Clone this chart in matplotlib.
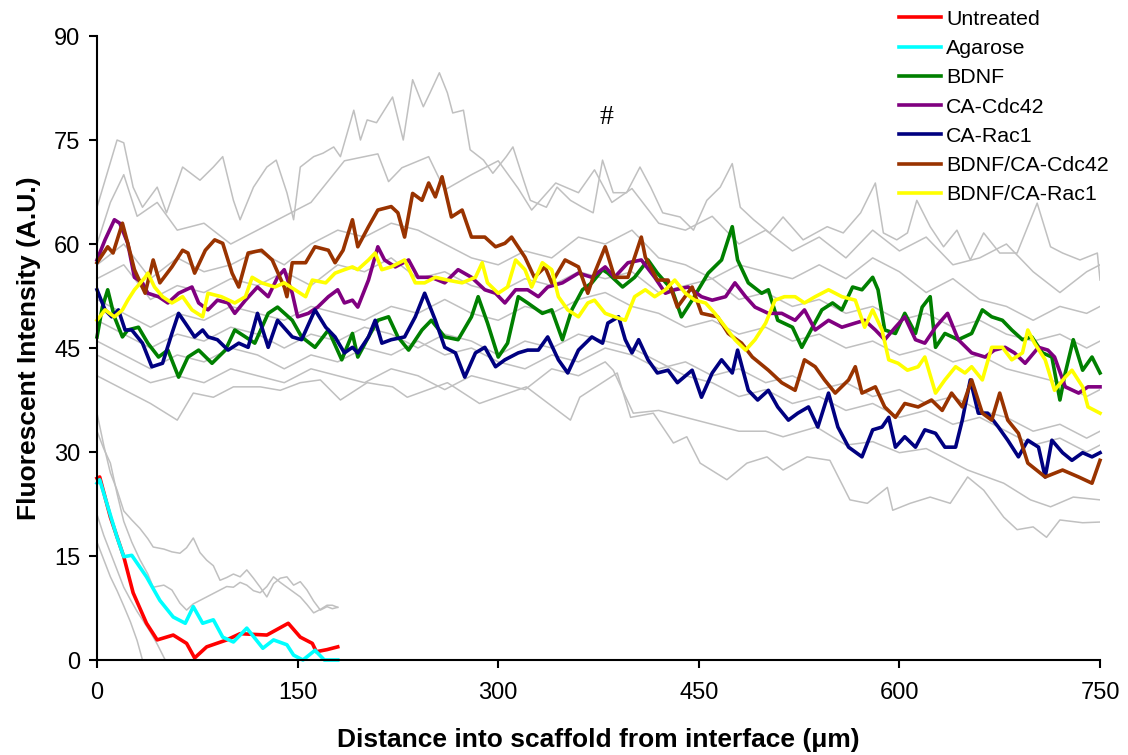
import matplotlib
matplotlib.use("Agg")
import matplotlib.pyplot as plt
from matplotlib.lines import Line2D

plt.rcParams['font.family'] = ['Liberation Sans', 'DejaVu Sans']

# ---------------- mean profiles ----------------
untreated_x = [0, 2, 10, 20, 27, 37, 45, 57, 67, 73, 82, 97, 107, 127, 143, 152, 161, 164, 172, 180]
untreated_y = [26.2, 26.4, 20.6, 14.9, 9.7, 5.3, 2.9, 3.6, 2.4, 0.3, 1.9, 2.9, 3.8, 3.6, 5.3, 3.3, 2.4, 1.2, 1.5, 1.9]

agarose_x = [0, 2, 15, 20, 26, 37, 47, 57, 66, 72, 79, 87, 94, 102, 112, 124, 132, 142, 147, 154, 163, 170, 180]
agarose_y = [25.5, 26, 17.7, 14.9, 15.1, 12, 8.6, 6.2, 5.3, 7.7, 5.3, 5.8, 3.3, 2.6, 4.6, 1.7, 2.9, 2.2, 0.7, 0, 1.4, 0, 0]

bdnf_x = [0, 4, 8, 13, 19, 23, 31, 38, 46, 53, 61, 68, 76, 86, 96, 103, 111, 118, 128, 135,
          146, 153, 163, 173, 183, 191, 195, 203, 210, 218, 225, 233, 243, 250, 260, 270, 280, 285, 292, 300,
          307, 315, 322, 333, 340, 348, 355, 363, 370, 378, 382, 393, 402, 412, 419, 430, 437, 445, 457, 467,
          475, 479, 487, 497, 502, 509, 520, 527, 535, 542, 550, 557, 565, 572, 580, 584, 589, 597, 604, 612,
          617, 623, 627, 634, 644, 654, 662, 669, 677, 684, 692, 699, 707, 714, 720, 724, 730, 737, 744, 750]
bdnf_y = [46.6, 50.9, 53.4, 49.5, 46.6, 47.6, 48, 45.7, 43.7, 44.7, 40.8, 43.7, 44.7, 42.8, 44.7, 47.6, 46.6, 45.7, 50, 50.9,
          49, 46.6, 45.1, 47.6, 43.3, 47.1, 43.7, 46.6, 49, 49.5, 46.6, 44.7, 47.6, 49, 46.6, 46.2, 49.5, 52.4, 48.6, 43.7,
          45.7, 52.4, 51.5, 50, 50.5, 46.2, 50.5, 53.4, 54.4, 56.3, 55.8, 53.8, 55.2, 57.7, 55.8, 53.4, 49.5, 51.9, 55.8, 57.7,
          62.5, 57.7, 54.4, 52.9, 53.4, 49, 48, 45.1, 48, 50.5, 51.5, 50.5, 53.8, 53.4, 55.2, 53.4, 47.6, 47.1, 50, 47.1,
          50.9, 52.4, 45.1, 47.1, 46.2, 47.1, 50.5, 49.5, 49, 47.6, 46.2, 46.6, 44.3, 43.7, 37.5, 41.4, 46.2, 41.8, 43.7, 41.4]

cdc42_x = [0, 6, 13, 17, 23, 28, 34, 38, 46, 53, 61, 71, 76, 83, 90, 98, 103, 111, 120, 128,
           135, 140, 146, 150, 158, 165, 173, 180, 185, 191, 195, 203, 210, 215, 223, 233, 240, 250, 260, 270,
           280, 290, 298, 305, 313, 322, 330, 337, 348, 360, 370, 380, 387, 397, 407, 417, 425, 432, 442, 452,
           460, 470, 477, 485, 492, 502, 512, 522, 529, 537, 547, 557, 567, 574, 582, 589, 597, 604, 612, 619,
           627, 636, 644, 654, 664, 671, 679, 686, 694, 704, 711, 716, 724, 734, 741, 750]
cdc42_y = [57.7, 60.6, 63.5, 63, 60.1, 55.2, 54.4, 52.9, 52.4, 51.5, 52.9, 53.8, 51.5, 50.5, 51.9, 51.5, 50, 51.9, 53.8, 52.4,
           55.2, 56.3, 52.9, 49.5, 50, 50.9, 52.4, 53.4, 51.5, 51.9, 50.9, 54.8, 59.6, 57.7, 56.7, 57.7, 55.2, 55.2, 54.4, 56.3,
           55.2, 53.4, 52.9, 51.5, 53.4, 53.4, 52.4, 53.8, 54.4, 55.8, 55.2, 56.7, 55.2, 57.3, 57.7, 55.2, 52.9, 53.4, 53.8, 52.4,
           51.9, 52.4, 54.4, 52.4, 50.9, 50, 50, 49, 50.5, 47.6, 49, 48, 48.6, 49, 47.6, 46.2, 48, 49.5, 46.2, 45.7,
           48, 50, 46.2, 44.3, 43.7, 44.7, 45.1, 44.3, 42.8, 45.1, 44.7, 43.7, 39.4, 38.5, 39.4, 39.4]

rac1_x = [0, 6, 11, 16, 21, 26, 34, 41, 49, 56, 61, 66, 73, 79, 83, 90, 98, 106, 113, 120,
          128, 135, 146, 153, 163, 171, 178, 185, 191, 195, 203, 208, 213, 220, 230, 238, 245, 253, 260, 268,
          275, 283, 290, 298, 305, 315, 322, 330, 337, 345, 352, 360, 370, 378, 382, 390, 395, 400, 405, 412,
          419, 427, 434, 445, 452, 460, 467, 475, 479, 487, 494, 502, 509, 517, 524, 532, 539, 547, 554, 562,
          572, 580, 587, 592, 597, 604, 612, 619, 627, 634, 642, 647, 653, 659, 666, 674, 681, 689, 696, 704,
          709, 714, 722, 729, 737, 744, 750]
rac1_y = [53.4, 50.5, 49.5, 50.5, 47.6, 47.6, 45.7, 42.3, 42.8, 47.1, 50, 48.6, 46.6, 47.6, 46.6, 46.2, 44.7, 45.7, 45.1, 50,
          45.1, 49, 46.6, 46.2, 50.5, 48, 46.6, 44.3, 45.1, 44.3, 46.6, 49, 45.7, 46.2, 46.6, 49.5, 52.9, 49, 45.1, 44.3,
          40.8, 44.3, 45.1, 42.3, 43.3, 44.3, 44.7, 44.7, 46.6, 43.3, 41.4, 44.7, 46.6, 45.7, 48.6, 49.5, 46.2, 44.3, 46.2, 43.3,
          41.4, 41.8, 40, 41.8, 37.9, 41.4, 43.3, 41.4, 44.7, 38.9, 37.5, 38.9, 36.5, 34.6, 35.6, 36.5, 33.6, 38.5, 33.6, 30.7,
          29.3, 33.2, 33.6, 35, 30.7, 32.2, 30.7, 33.2, 32.7, 30.7, 30.7, 34.6, 40.4, 35.6, 35.6, 33.6, 31.7, 29.3, 31.7, 30.7,
          26.4, 31.7, 29.9, 28.8, 29.9, 29.3, 29.9]

bdnf_cdc42_x = [0, 8, 12, 19, 23, 28, 36, 42, 47, 56, 64, 68, 73, 81, 88, 94, 101, 106, 113, 123,
                131, 140, 142, 146, 156, 163, 173, 178, 184, 191, 195, 203, 210, 220, 225, 230, 236, 243, 248, 253,
                258, 265, 273, 280, 290, 298, 305, 310, 320, 327, 335, 340, 350, 360, 367, 372, 380, 387, 397, 407,
                410, 419, 427, 434, 445, 452, 464, 472, 482, 490, 502, 512, 522, 529, 537, 544, 552, 562, 567, 572,
                582, 589, 597, 604, 614, 624, 632, 639, 647, 654, 662, 669, 675, 681, 689, 696, 709, 722, 734, 744, 750]
bdnf_cdc42_y = [57.3, 59.6, 58.7, 63, 60.1, 56.3, 52.9, 57.7, 54.4, 56.7, 59.1, 58.7, 55.8, 59.1, 60.6, 60.1, 55.8, 53.8, 58.7, 59.1,
                57.7, 53.8, 52.4, 57.3, 57.3, 59.6, 59.1, 57.3, 59.1, 63.5, 59.6, 62.5, 64.9, 65.4, 64.5, 61, 67.3, 66.3, 68.8, 66.8,
                69.7, 63.9, 64.9, 61, 61, 59.6, 60.1, 61, 58.1, 55.2, 56.7, 54.4, 57.7, 56.7, 52.9, 55.8, 59.6, 55.2, 55.2, 61,
                58.1, 54.8, 54.8, 50.9, 53.8, 50, 49.5, 47.1, 45.7, 43.7, 41.8, 40, 38.9, 43.3, 42.3, 40.4, 38.5, 40.4, 42.3, 38.5,
                39.4, 36.5, 35, 37, 36.5, 37.5, 36, 38.5, 36.5, 40.4, 35.6, 34.6, 38.5, 34.6, 32.7, 28.4, 26.4, 27.4, 26.4, 25.5, 28.8]

bdnf_rac1_x = [0, 6, 13, 19, 23, 28, 36, 38, 43, 49, 56, 64, 71, 79, 83, 93, 103, 111, 116, 123,
               133, 140, 148, 156, 161, 171, 178, 185, 191, 195, 203, 208, 213, 220, 230, 238, 245, 253, 262, 273,
               283, 288, 292, 300, 307, 313, 320, 325, 333, 340, 345, 352, 360, 367, 372, 380, 387, 395, 402, 410,
               417, 425, 432, 440, 447, 455, 462, 470, 477, 485, 492, 500, 507, 514, 522, 529, 537, 547, 557, 567,
               574, 580, 587, 592, 599, 606, 614, 619, 627, 634, 642, 649, 654, 662, 669, 677, 684, 692, 696, 701,
               709, 716, 724, 729, 737, 741, 750]
bdnf_rac1_y = [49, 50.5, 49.5, 50.5, 51.9, 53.4, 55.2, 55.8, 53.8, 52.4, 51.5, 52.4, 50.5, 49.5, 52.9, 52.4, 51.5, 52.4, 55.2, 54.4,
               53.8, 54.4, 53.4, 52.4, 54.8, 54.4, 55.8, 56.3, 56.7, 56.3, 57.7, 58.7, 56.3, 56.7, 57.7, 54.4, 54.4, 55.2, 54.8, 54.4,
               55.2, 57.3, 54.4, 52.9, 53.8, 57.7, 56.3, 53.8, 57.3, 56.3, 52.4, 50.5, 49.5, 51.5, 51.9, 50, 49.5, 49, 52.4, 53.4,
               52.4, 53.4, 54.8, 52.9, 51.9, 51.5, 50, 48, 46.2, 44.7, 46.2, 48.6, 51.9, 52.4, 52.4, 51.5, 52.4, 53.4, 52.4, 51.9,
               48, 50.5, 47.6, 43.3, 42.8, 41.8, 42.3, 43.7, 38.5, 40.4, 42.3, 41.4, 42.3, 40.4, 45.1, 45.1, 43.3, 44.3, 47.6, 45.7,
               43.3, 38.9, 40.8, 41.8, 39.4, 36.5, 35.6]

# ---------------- +/- SD profiles (grey) ----------------
sd_top_x = [0, 15, 20, 27, 34, 45, 52, 64, 77, 87, 94, 102, 107, 117, 127, 134, 142, 147, 152, 162,
            169, 177, 182, 192, 197, 202, 209, 221, 229, 236, 244, 249, 256, 262, 266, 274, 279, 289, 296, 306,
            311, 319, 324, 336, 344, 354, 363, 371, 378, 386, 396, 406, 414, 423, 436, 446, 456, 466, 475, 481,
            491, 503, 513, 528, 546, 558, 571, 582, 588, 598, 606, 613, 623, 633, 643, 653, 663, 675, 688, 703,
            713, 722, 735, 748, 750]
sd_top_y = [65.3, 75, 74.6, 68.2, 65.3, 68.2, 64.5, 71.1, 69.2, 71.1, 72.6, 66.3, 63.5, 68.2, 71.1, 72.1, 67.4, 63.5, 71.1, 72.6,
            73.1, 74, 72.6, 79.3, 75, 77.9, 77.5, 81.2, 75, 83.7, 79.8, 81.8, 84.7, 81.8, 78.9, 79.3, 73.6, 72.1, 70.2, 72.6,
            74, 69.2, 66.3, 65.3, 68.2, 66.3, 65.3, 64.5, 72.1, 67.4, 67.4, 71.1, 68.2, 64.5, 63.9, 62, 66.3, 68.2, 71.6, 65.3,
            63.5, 61.6, 63.9, 60.6, 62.5, 61.6, 64.5, 68.8, 61.6, 60.6, 61.6, 66.3, 62.5, 59.6, 62, 57.7, 61.6, 58.7, 58.7, 65.9,
            59.6, 58.7, 57.7, 58.7, 54.8]

sd_b_x = [0, 10, 20, 30, 45, 60, 80, 100, 120, 140, 160, 185, 210, 218, 228, 248, 260, 280, 300, 315,
          325, 343, 360, 372, 385, 400, 420, 440, 460, 480, 500, 520, 540, 560, 580, 600, 620, 640, 660, 680,
          700, 720, 740, 750]
sd_b_y = [60, 66, 70, 64, 66, 62, 63, 60, 62, 64, 66, 72, 73, 69, 71, 72.6, 67.8, 70, 72, 68,
          64.9, 68.8, 67.4, 70.7, 66, 68, 63, 62, 64, 60, 62, 59, 61, 58, 62, 59, 61, 57, 58, 60,
          56, 53, 56, 57]

sd_grid = [0, 20, 40, 60, 80, 100, 120, 140, 160, 180, 200, 220, 240, 260, 280, 300, 320, 340, 360, 380,
           400, 420, 440, 460, 480, 500, 520, 540, 560, 580, 600, 620, 640, 660, 680, 700, 720, 740, 750]
sd_c_y = [57, 60, 55, 58, 56, 57, 59, 57, 60, 62, 61, 63, 62, 60, 58, 57, 59, 58, 61, 60,
          62, 58, 57, 55, 57, 56, 55, 57, 55, 58, 56, 53, 55, 52, 51, 49, 51, 50, 51]
sd_d_y = [55, 57, 52, 54, 53, 55, 54, 56, 54, 57, 56, 58, 55, 56, 54, 53, 55, 54, 56, 55,
          56, 53, 54, 55, 52, 53, 51, 52, 50, 51, 49, 50, 48, 49, 47, 46, 47, 45, 46]
sd_e_y = [52, 50, 48, 50, 49, 51, 50, 49, 51, 50, 49, 51, 50, 52, 50, 49, 51, 50, 52, 53,
          51, 50, 48, 49, 47, 48, 46, 47, 45, 46, 44, 45, 43, 44, 42, 41, 40, 38, 39]
sd_f_y = [46, 44, 42, 44, 43, 45, 44, 42, 44, 43, 45, 44, 46, 44, 45, 43, 42, 44, 43, 45,
          44, 42, 43, 41, 42, 40, 41, 39, 40, 38, 39, 37, 38, 36, 35, 33, 34, 32, 33]
sd_g_y = [49, 47, 45, 47, 46, 48, 47, 45, 47, 46, 48, 47, 45, 47, 46, 44, 46, 45, 47, 46,
          45, 43, 41, 40, 38, 39, 37, 38, 36, 37, 35, 36, 34, 35, 33, 31, 32, 30, 31]

sd_h_x = [0, 20, 40, 60, 80, 100, 120, 140, 160, 180, 200, 220, 240, 260, 280, 300, 320, 340, 360, 380,
          386, 401, 420, 440, 460, 480, 500, 513, 538, 560, 580, 600, 620, 651, 678, 698, 713, 730, 750]
sd_h_y = [44, 42, 40, 41, 40, 42, 41, 40, 42, 41, 40, 42, 41, 39, 41, 40, 39, 42, 41, 43,
          41.8, 35.6, 36, 35, 34, 33, 33, 32.2, 33.6, 31, 31.5, 29.9, 30.5, 27.4, 25.5, 23.1, 22.1, 23.5, 23.1]

sd_low_x = [0, 20, 40, 60, 72, 87, 102, 122, 137, 152, 167, 182, 202, 221, 232, 262, 286, 321, 354, 361,
            389, 399, 416, 431, 441, 451, 471, 486, 501, 513, 531, 548, 563, 576, 591, 595, 608, 623, 638, 651,
            663, 678, 688, 700, 710, 720, 737, 750]
sd_low_y = [41, 39, 37, 34.6, 38.5, 37.9, 39.4, 39.4, 38.9, 40, 40.4, 37.5, 40, 39.4, 37.9, 40, 37, 39.4, 34.6, 37.9,
            41.4, 35, 35.6, 31.3, 32.2, 28.4, 26, 28.4, 29.3, 27.4, 29.3, 28.8, 23.1, 22.6, 24.9, 21.6, 22.6, 23.5, 22.6, 26.4,
            24.5, 20.6, 18.8, 19.2, 17.7, 20.2, 19.8, 19.9]

sd_short_x = [0, 5, 10, 15, 20, 26, 32, 38, 42, 50, 56, 62, 67, 72, 77, 82, 87, 92, 97, 102,
              107, 112, 117, 122, 127, 132, 137, 142, 147, 152, 157, 162, 167, 172, 176, 180]
sd_agar_hi_y = [35.6, 31, 27, 24.5, 21.5, 20.2, 19, 17.5, 16.3, 16, 15.6, 15.4, 16.2, 17.6, 15.5, 14.4, 13.6, 11.5, 11.9, 12.4,
                12, 13, 11.8, 10.5, 9.1, 11, 11.8, 12, 10.8, 11.3, 10.1, 8.5, 7.2, 7.7, 7.4, 7.6]
sd_untr_hi_y = [33, 30.5, 28.4, 24, 20, 17, 14.5, 12.4, 10.5, 10.8, 10.1, 8.2, 7.2, 8.1, 8.6, 9.1, 9.6, 10.1, 10.6, 10.5,
                11.2, 10.8, 10, 9.7, 10.6, 12, 11.2, 10.5, 9.8, 9.1, 8, 6.8, 7.3, 7.9, 7.9, 7.6]
sd_untr_lo_x = [0, 5, 10, 15, 20, 25, 30, 34]
sd_untr_lo_y = [17, 14.5, 12, 10, 7.8, 5.5, 2.8, 0]
sd_agar_lo_x = [0, 5, 10, 15, 20, 25, 30, 35, 40, 45, 51]
sd_agar_lo_y = [21, 18, 15.5, 13, 10.5, 8.7, 7, 5.5, 4, 2.3, 0]

series_names = ['Untreated', 'Agarose', 'BDNF', 'CA-Cdc42', 'CA-Rac1', 'BDNF/CA-Cdc42', 'BDNF/CA-Rac1']
series_colors = ['#ff0000', '#00ffff', '#008000', '#800080', '#000080', '#993300', '#ffff00']
x_ticks = [0, 150, 300, 450, 600, 750]
y_ticks = [0, 15, 30, 45, 60, 75, 90]

means = [(untreated_x, untreated_y), (agarose_x, agarose_y), (bdnf_x, bdnf_y), (cdc42_x, cdc42_y),
         (rac1_x, rac1_y), (bdnf_cdc42_x, bdnf_cdc42_y), (bdnf_rac1_x, bdnf_rac1_y)]
sd_lines = [(sd_top_x, sd_top_y), (sd_b_x, sd_b_y), (sd_grid, sd_c_y), (sd_grid, sd_d_y),
            (sd_grid, sd_e_y), (sd_grid, sd_f_y), (sd_grid, sd_g_y), (sd_h_x, sd_h_y),
            (sd_low_x, sd_low_y), (sd_short_x, sd_agar_hi_y), (sd_short_x, sd_untr_hi_y),
            (sd_untr_lo_x, sd_untr_lo_y), (sd_agar_lo_x, sd_agar_lo_y)]

fig = plt.figure(figsize=(11.28, 7.55), dpi=100)
ax = fig.add_axes([0.0860, 0.1258, 0.8892, 0.8265])

for gx, gy in sd_lines:
    ax.plot(gx, gy, color='#c0c0c0', lw=1.1, zorder=1)

handles = []
for (mx, my), name, col in zip(means, series_names, series_colors):
    ax.plot(mx, my, color=col, lw=2.6, zorder=2, clip_on=False,
            solid_joinstyle='round', label=name)
    handles.append(Line2D([], [], color=col, lw=2.6))

ax.set_xlim(0, 750)
ax.set_ylim(0, 90)
ax.set_xticks(x_ticks)
ax.set_yticks(y_ticks)
for side in ('top', 'right'):
    ax.spines[side].set_visible(False)
for side in ('left', 'bottom'):
    ax.spines[side].set_linewidth(1.5)
ax.tick_params(direction='out', length=6, width=1.5, labelsize=17)
ax.tick_params(axis='x', pad=10)
ax.tick_params(axis='y', pad=6)

ax.set_xlabel('Distance into scaffold from interface (\u03bcm)', fontsize=19, fontweight='bold', labelpad=17)
ax.set_ylabel('Fluorescent Intensity (A.U.)', fontsize=19, fontweight='bold', labelpad=9)

ax.text(381, 78.3, '#', fontsize=20, family=['Liberation Serif', 'DejaVu Serif'], ha='center', va='center')

fig.legend(handles, series_names, loc='upper left', bbox_to_anchor=(0.797, 0.987),
           frameon=False, fontsize=15.4, handlelength=1.96, handletextpad=0.25,
           labelspacing=0.48, borderpad=0, borderaxespad=0)

fig.savefig('out.png', dpi=100)
